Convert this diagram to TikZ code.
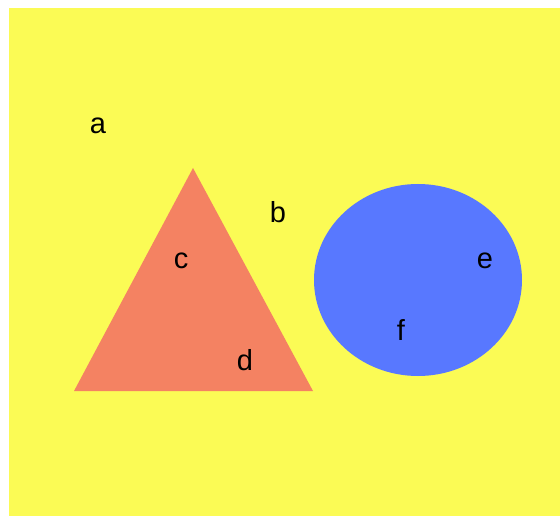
\documentclass[tikz,border=0pt]{standalone}
\usepackage{fontspec}
\setmainfont{Liberation Sans}
\definecolor{bgyellow}{HTML}{FBFB55}
\definecolor{trired}{HTML}{F48262}
\definecolor{ellblue}{HTML}{5878FF}
\begin{document}
\begin{tikzpicture}[x=1pt,y=-1pt,
  lbl/.style={inner sep=0pt,font=\fontsize{29}{32}\selectfont}]
\useasboundingbox (0,0) rectangle (560,516);
\fill[bgyellow] (9,8) rectangle (560,516);
\coordinate (tA) at (193,168);
\coordinate (tB) at (74,391);
\coordinate (tC) at (313,391);
\fill[trired] (tA) -- (tB) -- (tC) -- cycle;
\fill[ellblue] (418,280) ellipse [x radius=104, y radius=96];
\node[lbl] (a) at (98,126) {a};
\node[lbl] (b) at (278,212) {b};
\node[lbl] (c) at (181,261) {c};
\node[lbl] (d) at (245,360) {d};
\node[lbl] (e) at (485,261) {e};
\node[lbl] (f) at (401,330) {f};
\end{tikzpicture}
\end{document}
